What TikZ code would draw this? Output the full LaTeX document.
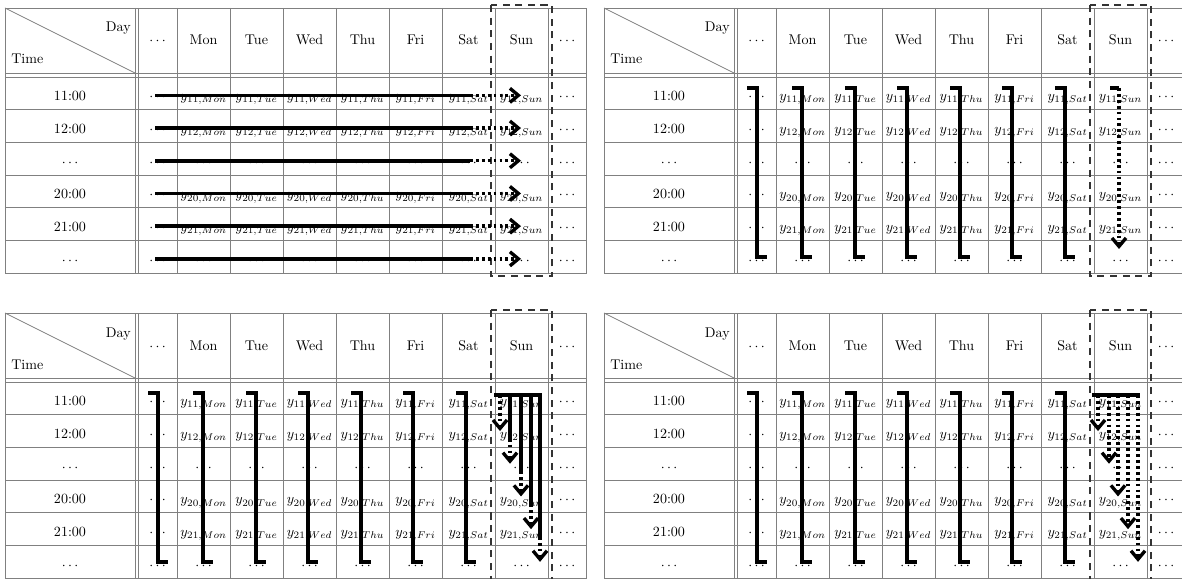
\documentclass[tikz,border=0pt]{standalone}
\usetikzlibrary{arrows.meta}
\tikzset{
  gridline/.style={draw=gray, line width=0.5pt},
  cell/.style={anchor=base, inner sep=0pt},
  bar/.style={line width=2.5pt},
  trail/.style={line width=2.4pt, dash pattern=on 2pt off 2.2pt,
    -{Straight Barb[length=6pt,width=10pt]}},
  sunbox/.style={draw=black!80, line width=1.8pt, dash pattern=on 5pt off 4pt},
}
\begin{document}
\begin{tikzpicture}[x=0.025cm, y=-0.025cm]
\useasboundingbox (0,0) rectangle (1182,578);
% the same week table, four times
\foreach \tab/\ox/\oy in {tl/5/8, tr/604/8, bl/5/313, br/604/313} {
  \begin{scope}[shift={(\ox,\oy)}]
    \draw[gridline] (0,0) rectangle (581,265);
    \draw[gridline] (0,65) -- (581,65) (0,69) -- (581,69);
    \draw[gridline] (130,0) -- (130,265) (133,0) -- (133,265);
    \foreach \x in {172,225,278,331,384,437,490,543}
      \draw[gridline] (\x,0) -- (\x,265);
    \foreach \r in {1,...,5}
      \draw[gridline] (0,69+32.7*\r) -- (581,69+32.7*\r);
    \draw[gridline] (0,0) -- (130,65);
    \node[cell, anchor=base east] (\tab-day) at (126,24) {Day};
    \node[cell, anchor=base west] (\tab-time) at (6,56) {Time};
    \node[cell] (\tab-h0) at (152.5,37) {$\cdots$};
    \foreach \d [count=\c] in {Mon,Tue,Wed,Thu,Fri,Sat,Sun}
      \node[cell] (\tab-h\c) at (145.5+53*\c,37) {\d};
    \node[cell] (\tab-h8) at (562,37) {$\cdots$};
    % rows with values
    \foreach \r/\hr in {1/11,2/12,4/20,5/21} {
      \node[cell] (\tab-t\r) at (65,60.15+32.7*\r) {\hr:00};
      \foreach \d [count=\c] in {Mon,Tue,Wed,Thu,Fri,Sat,Sun}
        \node[cell] (\tab-\r-\c) at (145.5+53*\c,60.15+32.7*\r) {$y_{\hr,\d}$};
    }
    % rows left out
    \foreach \r in {3,6} {
      \node[cell] (\tab-t\r) at (65,60.15+32.7*\r) {$\cdots$};
      \foreach \c in {1,...,7}
        \node[cell] (\tab-\r-\c) at (145.5+53*\c,60.15+32.7*\r) {$\cdots$};
    }
    \foreach \r in {1,...,6} {
      \node[cell] (\tab-\r-0) at (152.5,60.15+32.7*\r) {$\cdots$};
      \node[cell] (\tab-\r-8) at (562,60.15+32.7*\r) {$\cdots$};
    }
    \draw[sunbox] (486,-3) rectangle (547,268);
  \end{scope}
}

% top left: along the rows
\begin{scope}[shift={(5,8)}]
  \foreach \r in {1,...,6} {
    \path (150,54.65+32.7*\r) coordinate (go\r)
          (465,54.65+32.7*\r) coordinate (sat\r)
          (516,54.65+32.7*\r) coordinate (sun\r);
    \draw[bar] (go\r) -- (sat\r);
    \draw[trail] (sat\r) -- (sun\r);
  }
\end{scope}

% top right: down the columns
\begin{scope}[shift={(604,8)}]
  \foreach \x in {153,198,251,303,356,408,461}
    \draw[bar] (\x-10,80) -- (\x,80) -- (\x,249) -- (\x+10,249);
  \draw[bar] (506,80) -- (515,80) coordinate (top);
  \draw[trail] (top) -- (515,241);
\end{scope}

% bottom left: down the columns, then Sun step by step
\begin{scope}[shift={(5,313)}]
  \foreach \x in {153,198,251,303,356,408,461}
    \draw[bar] (\x-10,80) -- (\x,80) -- (\x,249) -- (\x+10,249);
  \draw[bar] (489,82) -- (537,82);
  \draw[trail] (495,82) -- (495,118.05);
  \foreach \x/\k in {505/2,516/3,526/4,535/5} {
    \path (\x,82) coordinate (a)
          (\x,60.35+32.7*\k) coordinate (b)
          (\x,85.35+32.7*\k) coordinate (c);
    \draw[bar] (a) -- (b);
    \draw[trail] (b) -- (c);
  }
\end{scope}

% bottom right: down the columns, Sun all at once
\begin{scope}[shift={(604,313)}]
  \foreach \x in {153,198,251,303,356,408,461}
    \draw[bar] (\x-10,80) -- (\x,80) -- (\x,249) -- (\x+10,249);
  \draw[bar] (488,82) -- (536,82);
  \foreach \x/\k in {494/1,505/2,514/3,524/4,534/5}
    \draw[trail] (\x,82) -- (\x,85.35+32.7*\k);
\end{scope}
\end{tikzpicture}
\end{document}
